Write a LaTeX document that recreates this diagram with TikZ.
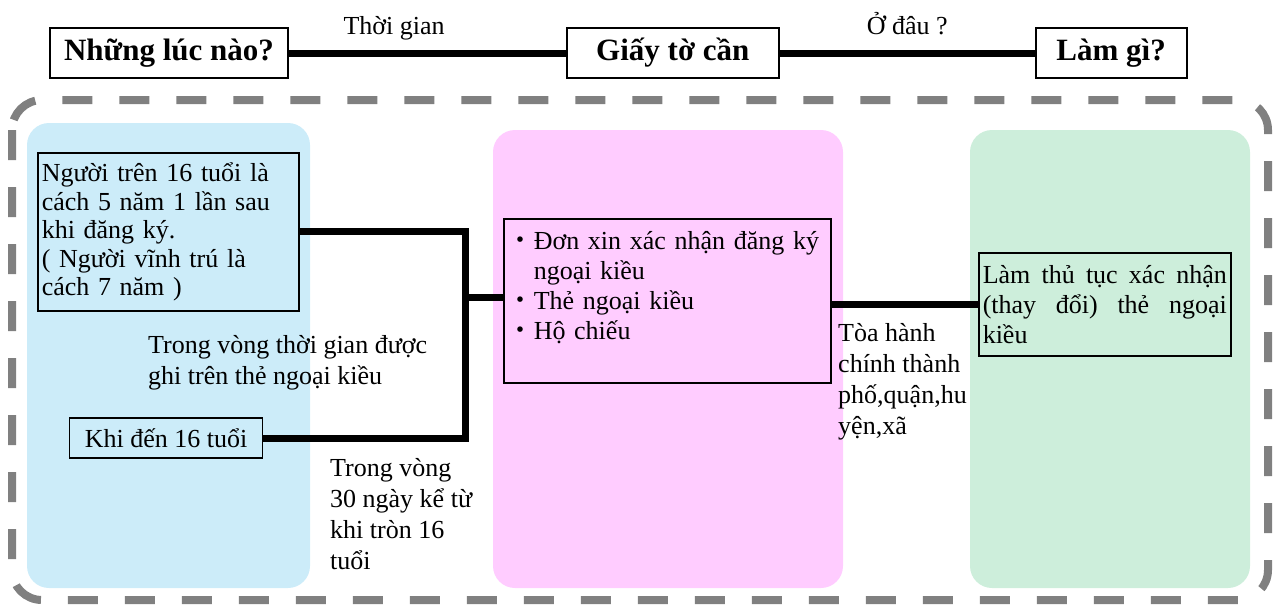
\documentclass[tikz,border=0pt]{standalone}
\usepackage{fontspec}
\setmainfont{Liberation Serif}
\newfontfamily\cjk{Noto Sans CJK JP}
\usepackage{tikz}
\usetikzlibrary{positioning}
\definecolor{panelblue}{RGB}{204,236,249}
\definecolor{panelpink}{RGB}{255,204,255}
\definecolor{panelgreen}{RGB}{205,238,219}
\definecolor{framegray}{RGB}{128,128,128}
\tikzset{link/.style = {line width=7pt}}

\begin{document}
\begin{tikzpicture}[x=1pt,y=-1pt,
    head node/.style={draw,line width=1.8pt,minimum height=50pt,inner sep=0pt,font=\bfseries\fontsize{31}{36}\selectfont},
    text node/.style={draw,line width=1.5pt,inner sep=4pt,align=left,anchor=north west,font=\fontsize{26}{30}\selectfont},
    note/.style={inner sep=0pt,align=left,anchor=north west,font=\fontsize{26}{31}\selectfont},
    panel/.style={rounded corners=22pt}]
    \useasboundingbox (0,0) rectangle (1277,606);

    % dashed frame and colour panels
    \draw[framegray,line width=8pt,dash pattern=on 30pt off 27pt,rounded corners=30pt] (12,100) rectangle (1268,600);
    \fill[panelblue,panel] (27,123) rectangle (310,588);
    \fill[panelpink,panel] (493,130) rectangle (843,588);
    \fill[panelgreen,panel] (970,130) rectangle (1250,588);

    % header row
    \node[head node,minimum width=238pt] (when) at (169,53) {Những lúc nào?};
    \node[head node,minimum width=212pt] (docs head) [right=277pt of when] {Giấy tờ cần};
    \node[head node,minimum width=151pt] (what) [right=255pt of docs head] {Làm gì?};

    \path[link,every node/.style={font=\fontsize{26}{31}\selectfont,anchor=base,yshift=19pt}]
        (when) edge node[pos=0.38] {Thời gian} (docs head)
        (docs head) edge node {Ở đâu ?} (what);

    % boxes
    \node[text node,text width=253pt,inner ysep=10pt,font=\fontsize{26}{28.5}\selectfont] (older) at (37,152)
        {Người trên 16 tuổi là\\cách 5 năm 1 lần sau\\khi đăng ký.\\( Người vĩnh trú là\\cách 7 năm )};
    \node[text node,anchor=center,minimum width=193pt,minimum height=40pt] (young) at (166,438) {Khi đến 16 tuổi};
    \node[text node,text width=319pt,inner ysep=13pt] (docs) at (503,218)
        {{\cjk ・}Đơn xin xác nhận đăng ký\\\hspace*{1em}ngoại kiều\\{\cjk ・}Thẻ ngoại kiều\\{\cjk ・}Hộ chiếu\\\mbox{}};
    \node[text node,text width=244pt,align=justify,minimum height=103pt] (proc) at (978,252)
        {Làm thủ tục xác nhận\linebreak (thay đổi) thẻ ngoại\linebreak kiều};

    % notes
    \node[note] (period) at (148,335) {Trong vòng thời gian được\\ghi trên thẻ ngoại kiều};
    \node[note] (days) at (330,458) {Trong vòng\\30 ngày kể từ\\khi tròn 16\\tuổi};
    \node[note] (office) at (838,323) {Tòa hành\\chính thành\\phố,quận,hu\\yện,xã};

    % connectors
    \coordinate (jn) at (465,297);
    \draw[link] (older.east) -| (jn) |- (young.east);
    \draw[link] (jn) -- (jn -| docs.west);
    \draw[link] (docs.east |- proc.west) -- (proc.west);
\end{tikzpicture}
\end{document}
